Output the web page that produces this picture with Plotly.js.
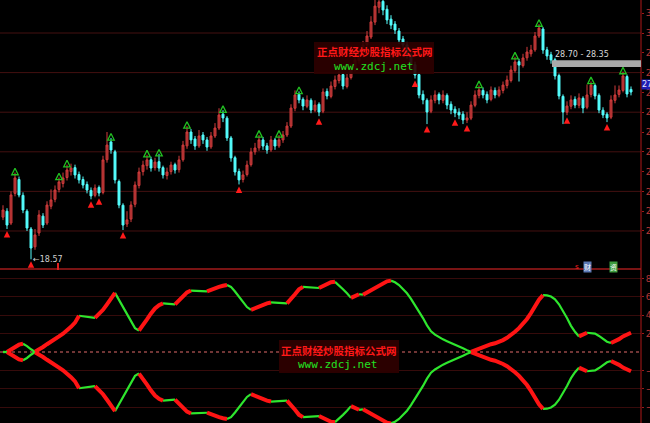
<!DOCTYPE html>
<html>
<head>
<meta charset="utf-8">
<script src="https://cdn.plot.ly/plotly-3.0.1.min.js"></script>
<style>html,body{margin:0;padding:0;background:#000;}#chart{width:650px;height:423px;}</style>
</head>
<body>
<div id="chart"></div>
<script>
// ---- price data (bar index 0..157) ----
const openP = [20.70,21.00,20.40,21.90,22.60,21.80,21.00,20.10,19.20,19.90,20.75,20.40,21.25,21.60,22.10,22.40,22.70,23.00,23.20,22.85,
22.60,22.35,22.05,21.80,22.20,21.95,23.60,24.50,24.00,22.50,21.30,20.35,20.60,21.35,22.30,23.00,23.30,23.60,23.20,23.50,
23.20,22.80,23.00,23.35,23.10,23.60,24.30,25.00,24.65,24.30,24.85,24.60,24.25,24.80,25.20,25.90,25.70,24.70,23.70,23.00,
22.60,22.85,23.35,24.00,24.20,24.60,24.30,24.10,24.60,24.30,24.60,24.85,25.30,26.20,26.90,26.65,26.30,26.60,26.10,26.40,
26.05,27.05,26.80,27.30,27.60,27.90,27.30,27.75,28.20,28.60,28.90,29.40,29.80,30.55,31.30,31.60,31.20,30.70,30.45,30.10,
29.70,29.40,28.90,28.40,27.90,26.90,26.60,26.05,26.60,26.90,26.60,26.85,26.40,26.15,26.00,25.90,25.60,25.70,26.35,26.85,
27.10,26.90,26.65,27.10,26.85,27.10,27.35,27.60,28.10,28.55,28.35,28.75,28.95,29.15,29.85,30.20,29.15,28.90,28.65,27.85,
26.80,26.00,26.30,26.65,26.35,26.70,26.25,26.90,27.35,26.85,26.10,25.90,25.75,26.60,26.90,27.10,27.80,27.15];
const highP = [21.30,21.15,22.00,22.95,22.75,21.95,21.10,20.20,20.10,21.05,20.90,21.50,22.10,22.30,22.70,22.95,23.35,23.40,23.35,23.00,
22.75,22.50,22.20,22.35,22.30,23.80,25.00,24.70,24.10,22.60,21.40,21.00,21.50,22.50,23.20,23.55,23.85,23.75,23.70,23.90,
23.30,23.20,23.50,23.45,23.80,24.55,25.30,25.15,24.80,25.10,25.00,24.75,25.00,25.45,26.20,26.10,25.80,24.80,23.80,23.15,
23.05,23.55,24.20,24.45,24.85,24.75,24.45,24.80,24.70,24.85,25.05,25.50,26.40,27.10,27.05,26.75,26.85,26.70,26.60,26.50,
27.20,27.20,27.55,27.85,28.10,28.00,27.95,28.45,28.85,29.15,29.60,30.10,30.85,31.70,31.90,31.80,31.40,30.90,30.60,30.25,
29.85,29.55,29.00,28.55,28.00,27.10,26.70,26.85,27.10,27.00,27.10,26.95,26.55,26.30,26.20,26.05,26.00,26.55,27.10,27.35,
27.25,27.05,27.30,27.25,27.30,27.55,27.85,28.35,28.80,28.70,28.95,29.30,29.40,30.05,30.45,30.30,29.30,29.05,28.75,27.95,
26.90,26.55,26.85,26.80,26.95,26.80,27.40,27.55,27.45,26.95,26.25,26.00,26.85,27.35,27.35,28.05,27.90,27.30];
const lowP = [20.55,20.10,20.30,21.75,21.70,20.90,20.00,18.57,19.05,19.75,20.15,20.30,21.10,21.45,21.95,22.20,22.55,22.80,22.65,22.40,
22.15,21.90,21.60,21.70,21.75,21.85,23.45,23.90,22.40,21.15,20.05,20.20,20.45,21.20,22.15,22.80,23.10,23.00,23.05,23.00,
22.65,22.60,22.85,22.90,22.95,23.50,24.15,24.40,24.10,24.20,24.40,24.05,24.15,24.70,25.10,25.50,24.55,23.50,22.80,22.35,
22.45,22.75,23.25,23.85,24.05,24.10,23.90,24.00,24.10,24.20,24.45,24.75,25.20,26.05,26.45,26.10,26.20,25.95,26.00,25.80,
25.95,26.65,26.70,27.15,27.45,27.15,27.20,27.65,28.05,28.45,28.75,29.25,29.70,30.40,31.00,30.90,30.45,30.20,29.95,29.45,
29.20,28.70,28.25,27.70,26.70,26.40,25.40,25.95,26.45,26.40,26.45,26.15,25.90,25.75,25.65,25.40,25.45,25.60,26.25,26.70,
26.70,26.45,26.55,26.70,26.75,26.95,27.20,27.50,28.00,27.55,28.25,28.60,28.80,29.05,29.75,28.95,28.65,28.45,27.65,26.65,
25.40,25.85,26.15,26.20,26.20,25.95,26.15,26.75,26.65,25.95,25.70,25.50,25.65,26.45,26.75,27.00,26.75,26.85];
const closeP = [21.06,20.30,21.82,22.68,21.82,21.06,20.15,19.14,19.80,20.81,20.30,21.31,21.57,22.07,22.48,22.68,23.08,23.18,22.83,22.58,
22.32,22.07,21.77,22.17,21.92,23.59,24.34,24.09,22.58,21.31,20.30,20.56,21.31,22.32,22.98,23.33,23.59,23.18,23.48,23.18,
22.83,22.98,23.33,23.08,23.59,24.34,25.00,24.60,24.29,24.80,24.60,24.24,24.80,25.20,25.86,25.71,24.70,23.69,22.98,22.58,
22.83,23.33,23.99,24.19,24.60,24.29,24.09,24.60,24.29,24.60,24.85,25.30,26.21,26.87,26.62,26.31,26.62,26.11,26.36,26.01,
27.02,26.82,27.32,27.63,27.88,27.32,27.73,28.23,28.64,28.89,29.39,29.85,30.56,31.36,31.57,31.16,30.66,30.40,30.15,29.65,
29.39,28.89,28.43,27.88,26.87,26.62,26.01,26.62,26.87,26.62,26.87,26.36,26.11,25.96,25.86,25.61,25.71,26.36,26.87,27.12,
26.87,26.62,27.12,26.87,27.12,27.37,27.63,28.13,28.54,28.38,28.74,29.04,29.14,29.85,30.25,29.14,28.84,28.64,27.83,26.82,
26.01,26.31,26.62,26.36,26.72,26.21,26.87,27.37,26.82,26.11,25.86,25.71,26.62,26.87,27.12,27.83,26.92,27.02];

// signal bars
const buySignalBars = [1,7,22,24,30,59,79,103,106,113,116,141,151];
const sellSignalBars = [3,14,16,27,36,39,46,55,64,69,74,119,128,134,147,155];

// indicator (upper curve; lower curve is its mirror)
const indicator = [0.00,0.00,0.25,0.55,0.80,0.90,0.65,0.30,0.02,0.25,0.55,0.85,1.10,1.40,1.70,2.00,2.35,2.75,3.20,3.95,
3.88,3.82,3.78,3.72,4.10,4.60,5.20,5.85,6.45,5.70,4.95,4.20,3.45,2.60,2.35,2.90,3.55,4.20,4.75,5.10,
5.30,5.28,5.24,5.20,5.60,6.05,6.50,6.70,6.68,6.66,6.64,6.62,6.80,6.95,7.10,7.22,7.30,7.10,6.60,6.00,
5.40,4.90,4.60,4.80,5.00,5.15,5.30,5.40,5.38,5.35,5.32,5.30,5.75,6.30,6.85,7.10,7.05,7.02,7.00,6.98,
7.20,7.40,7.60,7.65,7.30,6.85,6.40,5.90,6.10,6.30,6.25,6.50,6.80,7.05,7.30,7.55,7.70,7.78,7.60,7.30,
6.90,6.40,5.80,5.10,4.50,3.70,2.90,2.25,1.90,1.60,1.38,1.18,1.00,0.80,0.60,0.40,0.18,0.02,0.20,0.40,
0.60,0.75,0.85,0.95,1.10,1.30,1.55,1.85,2.20,2.60,3.05,3.60,4.25,5.00,5.70,6.20,6.18,6.05,5.75,5.20,
4.50,3.70,2.85,2.20,1.70,1.90,2.10,2.05,2.00,1.75,1.40,1.12,0.98,1.15,1.40,1.70,1.95,2.10];

const priceTicks = [20,21,22,23,24,25,26,27,28,29,30,31];
const priceGrid = [20,22,24,26,28,30];
const indTicks = [8,6,4,2,-2,-4,-6];
const lowLabel = {bar: 7, value: 18.57, text: '18.57'};
const rangeLabel = '28.70 - 28.35';
const lastPriceLabel = {value: 27.40, text: '27.40'};
const watermarkCN = '正点财经炒股指标公式网';
const watermarkURL = 'www.zdcj.net';

const bars = closeP.map((_, i) => i);

const traces = [];
traces.push({
  type: 'candlestick', x: bars, open: openP, high: highP, low: lowP, close: closeP,
  xaxis: 'x', yaxis: 'y',
  increasing: {line: {color: '#d23c3c', width: 1}, fillcolor: '#9a2c2c'},
  decreasing: {line: {color: '#54fcfc', width: 1}, fillcolor: '#54fcfc'},
  whiskerwidth: 0, hoverinfo: 'skip', showlegend: false
});
traces.push({
  type: 'scatter', mode: 'markers', xaxis: 'x', yaxis: 'y',
  x: buySignalBars, y: buySignalBars.map(i => lowP[i] - 0.1),
  marker: {symbol: 'arrow-up', size: 6.5, color: '#ff1a1a'}, showlegend: false, hoverinfo: 'skip'
});
traces.push({
  type: 'scatter', mode: 'markers', xaxis: 'x', yaxis: 'y',
  x: sellSignalBars, y: sellSignalBars.map(i => highP[i] + 0.22),
  marker: {symbol: 'arrow-up-open', size: 6.5, color: '#22c022', line: {width: 1.3, color: '#22c022'}}, showlegend: false, hoverinfo: 'skip'
});

// indicator colored runs
function runs(sign) {
  const red = {x: [], y: []}, green = {x: [], y: []};
  let cur = null, curUp = null;
  for (let i = 1; i < indicator.length; i++) {
    const up = indicator[i] > indicator[i - 1];
    const tgt = up ? red : green;
    if (up !== curUp) {
      if (cur) { cur.x.push(null); cur.y.push(null); }
      tgt.x.push(bars[i - 1]); tgt.y.push(sign * indicator[i - 1]);
      cur = tgt; curUp = up;
    }
    tgt.x.push(bars[i]); tgt.y.push(sign * indicator[i]);
  }
  return {red, green};
}
[1, -1].forEach(s => {
  const r = runs(s);
  traces.push({type: 'scatter', mode: 'lines', xaxis: 'x', yaxis: 'y2', x: r.green.x, y: r.green.y,
    line: {color: '#2ee62e', width: 2.2}, connectgaps: false, showlegend: false, hoverinfo: 'skip'});
  traces.push({type: 'scatter', mode: 'lines', xaxis: 'x', yaxis: 'y2', x: r.red.x, y: r.red.y,
    line: {color: '#ff1414', width: 4}, connectgaps: false, showlegend: false, hoverinfo: 'skip'});
});

const W = 641, H = 423;
const px = v => v / W;
const py = v => 1 - v / H;

const shapes = [];
// main-panel grid lines
priceGrid.forEach(g => shapes.push({type: 'line', xref: 'paper', yref: 'y', x0: 0, x1: 1, y0: g, y1: g,
  line: {color: '#441010', width: 1}, layer: 'below'}));
shapes.push(
  {type: 'line', xref: 'paper', yref: 'y2', x0: 0, x1: 1, y0: 0, y1: 0, line: {color: '#e06a6a', width: 1.2, dash: 'dot'}, layer: 'below'},
  {type: 'line', xref: 'paper', yref: 'paper', x0: 0, x1: 1, y0: py(269), y1: py(269), line: {color: '#7a1414', width: 2}},
  {type: 'line', xref: 'paper', yref: 'paper', x0: 1, x1: 1, y0: 0, y1: 1, line: {color: '#b01818', width: 1}},
  {type: 'rect', xref: 'paper', yref: 'y', x0: px(552), x1: 1, y0: 28.28, y1: 28.62, fillcolor: '#a9a9a9', line: {width: 0}, layer: 'above'},
  {type: 'rect', xref: 'paper', yref: 'paper', x0: px(314), x1: px(434), y0: py(74), y1: py(42), fillcolor: 'rgba(45,0,0,0.92)', line: {width: 0}, layer: 'above'},
  {type: 'rect', xref: 'paper', yref: 'paper', x0: px(279), x1: px(399), y0: py(373), y1: py(340), fillcolor: 'rgba(45,0,0,0.95)', line: {width: 0}, layer: 'above'},
  {type: 'line', xref: 'paper', yref: 'paper', x0: px(58), x1: px(58), y0: py(270), y1: py(263), line: {color: '#e02020', width: 2}}
);

const cnFont = {family: 'Noto Sans CJK SC', size: 10.5, weight: 'bold', color: '#ff1818'};
const urlFont = {family: 'DejaVu Sans Mono', size: 11, color: '#22e022'};
const layout = {
  width: 650, height: 423,
  margin: {l: 0, r: 9, t: 0, b: 0},
  paper_bgcolor: '#000', plot_bgcolor: '#000',
  showlegend: false,
  xaxis: {range: [-0.75, 159.5], showgrid: false, zeroline: false, showticklabels: false, ticks: '',
          anchor: 'y2', rangeslider: {visible: false}, fixedrange: true},
  yaxis: {domain: [0.3664, 1], range: [18.13, 31.667], side: 'right', tickvals: priceTicks,
          showgrid: false, zeroline: false, ticks: 'outside', ticklen: 2, tickcolor: '#a01818',
          tickfont: {family: 'DejaVu Sans', size: 9, color: '#b83838'}, fixedrange: true},
  yaxis2: {domain: [0, 0.3617], range: [-7.74, 8.94], side: 'right', tickvals: indTicks,
           showgrid: true, gridcolor: '#360b0b', zeroline: false, ticks: 'outside', ticklen: 2, tickcolor: '#a01818',
           tickfont: {family: 'DejaVu Sans', size: 9, color: '#b83838'}, fixedrange: true},
  shapes: shapes,
  annotations: [
    {xref: 'paper', yref: 'paper', x: px(375), y: py(52), xanchor: 'center', yanchor: 'middle', text: watermarkCN, showarrow: false, font: cnFont},
    {xref: 'paper', yref: 'paper', x: px(373), y: py(66), xanchor: 'center', yanchor: 'middle', text: watermarkURL, showarrow: false, font: urlFont},
    {xref: 'paper', yref: 'paper', x: px(339), y: py(350), xanchor: 'center', yanchor: 'middle', text: watermarkCN, showarrow: false, font: cnFont},
    {xref: 'paper', yref: 'paper', x: px(338), y: py(364), xanchor: 'center', yanchor: 'middle', text: watermarkURL, showarrow: false, font: urlFont},
    {xref: 'x', yref: 'y', x: lowLabel.bar, y: lowLabel.value, xanchor: 'left', yanchor: 'middle', text: '←' + lowLabel.text,
     showarrow: false, font: {family: 'DejaVu Sans', size: 8, color: '#cfcfcf'}},
    {xref: 'paper', yref: 'paper', x: px(553), y: py(55), xanchor: 'left', yanchor: 'middle', text: rangeLabel,
     showarrow: false, font: {family: 'DejaVu Sans', size: 8, color: '#d8d8d8'}},
    {xref: 'paper', yref: 'y', x: 1, y: lastPriceLabel.value, xanchor: 'left', yanchor: 'middle', text: lastPriceLabel.text,
     showarrow: false, bgcolor: '#1e1eb4', borderpad: 0, font: {family: 'DejaVu Sans', size: 8, color: '#e8e8ff'}},
    {xref: 'paper', yref: 'paper', x: px(577), y: py(267), xanchor: 'center', yanchor: 'middle', text: 's', showarrow: false,
     font: {family: 'DejaVu Sans', size: 7, color: '#ff2020'}},
    {xref: 'paper', yref: 'paper', x: px(587), y: py(267), xanchor: 'center', yanchor: 'middle', text: '财', showarrow: false, bgcolor: '#5a78b4', borderpad: 0,
     font: {family: 'Noto Sans CJK SC', size: 7, color: '#ffffff'}},
    {xref: 'paper', yref: 'paper', x: px(613), y: py(267), xanchor: 'center', yanchor: 'middle', text: '资', showarrow: false, bgcolor: '#3c9c3c', borderpad: 0,
     font: {family: 'Noto Sans CJK SC', size: 7, color: '#ffffff'}}
  ]
};

Plotly.newPlot('chart', traces, layout, {staticPlot: true, displayModeBar: false});
</script>
</body>
</html>
